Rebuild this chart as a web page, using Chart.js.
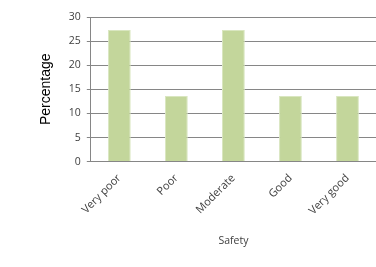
<!DOCTYPE html>
<html>
<head>
<meta charset="utf-8">
<script src="https://cdn.jsdelivr.net/npm/chart.js@4"></script>
<style>
  html, body { margin: 0; padding: 0; background: #fff; }
  #wrap { width: 376px; height: 267px; }
</style>
</head>
<body>
<div id="wrap"><canvas id="chart"></canvas></div>
<script>
// データ
const categories = ['Very poor', 'Poor', 'Moderate', 'Good', 'Very good'];
const percentages = [27.3, 13.6, 27.3, 13.6, 13.6];
const yTicks = [0, 5, 10, 15, 20, 25, 30];

const ctx = document.getElementById('chart').getContext('2d');
const chart = new Chart(ctx, {
    type: 'bar',
    data: {
        labels: categories,
        datasets: [{
            data: percentages,
            backgroundColor: '#c3d69b',
            borderColor: '#d9e6c0',
            borderWidth: 1,
            barPercentage: 0.4,
            categoryPercentage: 1.0
        }]
    },
    options: {
        responsive: true,
        maintainAspectRatio: false,
        animation: false,
        layout: { padding: { left: 34, right: 0, top: 17, bottom: 16 } },
        plugins: {
            legend: { display: false },
            tooltip: { enabled: false }
        },
        scales: {
            x: {
                grid: { display: false },
                border: { color: '#868686', width: 1 },
                ticks: {
                    color: '#404040',
                    font: { family: 'Open Sans', size: 11 },
                    maxRotation: 45,
                    minRotation: 45,
                    padding: 2
                },
                title: {
                    display: true,
                    text: 'Safety',
                    color: '#404040',
                    font: { family: 'Open Sans', size: 10.5 },
                    padding: { top: 15 }
                }
            },
            y: {
                min: 0,
                max: 30,
                afterBuildTicks: axis => { axis.ticks = yTicks.map(v => ({ value: v })); },
                grid: { color: '#868686', tickLength: 4 },
                border: { color: '#868686' },
                ticks: {
                    color: '#404040',
                    font: { family: 'Open Sans', size: 10.5 },
                    padding: 6
                },
                title: {
                    display: true,
                    text: 'Percentage',
                    color: '#000',
                    font: { family: 'Liberation Sans', size: 14 },
                    padding: { bottom: 8 }
                }
            }
        }
    }
});
</script>
</body>
</html>
